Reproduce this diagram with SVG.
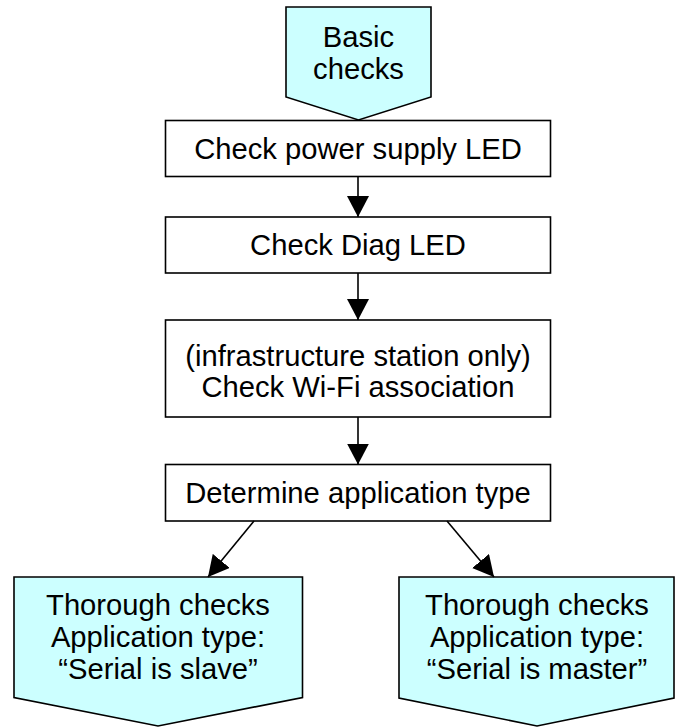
<svg xmlns="http://www.w3.org/2000/svg" width="675" height="727" viewBox="0 0 675 727">
<defs>
<marker id="arr" markerUnits="userSpaceOnUse" markerWidth="22" markerHeight="22" viewBox="0 0 20 20" refX="19" refY="10" orient="auto">
<path d="M0,0 L19,10 L0,20 Z" fill="#000"/>
</marker>
<style>
.box{fill:#fff;stroke:#000;stroke-width:1.6}
.pent{fill:#CCFFFF;stroke:#000;stroke-width:1.6}
.t{font-family:"Liberation Sans",Arial,sans-serif;font-size:29.2px;fill:#000;text-anchor:middle}
.c{stroke:#000;stroke-width:1.6;fill:none;marker-end:url(#arr)}
</style>
</defs>
<rect width="675" height="727" fill="#fff"/>
<g id="basic">
<path class="pent" d="M286,7 H431 V97 L358.5,120 L286,97 Z"/>
<text class="t" x="358.5" y="47">Basic</text>
<text class="t" x="358.5" y="79">checks</text>
</g>
<g id="power">
<rect class="box" x="165.5" y="120.5" width="385" height="56"/>
<text class="t" x="358" y="159">Check power supply LED</text>
</g>
<g id="diag">
<rect class="box" x="165.5" y="217" width="385" height="56"/>
<text class="t" x="358" y="255">Check Diag LED</text>
</g>
<g id="wifi">
<rect class="box" x="165.5" y="320" width="385" height="97"/>
<text class="t" x="358" y="366">(infrastructure station only)</text>
<text class="t" x="358" y="397">Check Wi-Fi association</text>
</g>
<g id="apptype">
<rect class="box" x="165.5" y="464.5" width="385" height="56.5"/>
<text class="t" x="358" y="503">Determine application type</text>
</g>
<g id="slave">
<path class="pent" d="M14,577 H302.5 V697.5 L158,726 L14,697.5 Z"/>
<text class="t" x="158" y="615">Thorough checks</text>
<text class="t" x="158" y="647">Application type:</text>
<text class="t" x="158" y="679">“Serial is slave”</text>
</g>
<g id="master">
<path class="pent" d="M399,577 H674 V698 L537,726 L399,698 Z"/>
<text class="t" x="537" y="615">Thorough checks</text>
<text class="t" x="537" y="647">Application type:</text>
<text class="t" x="537" y="679">“Serial is master”</text>
</g>
<g id="connectors">
<line class="c" x1="358" y1="177" x2="358" y2="217"/>
<line class="c" x1="358" y1="273" x2="358" y2="320"/>
<line class="c" x1="358" y1="417" x2="358" y2="464.5"/>
<line class="c" x1="254" y1="521" x2="208" y2="577"/>
<line class="c" x1="447" y1="521" x2="494" y2="577"/>
</g>
</svg>
